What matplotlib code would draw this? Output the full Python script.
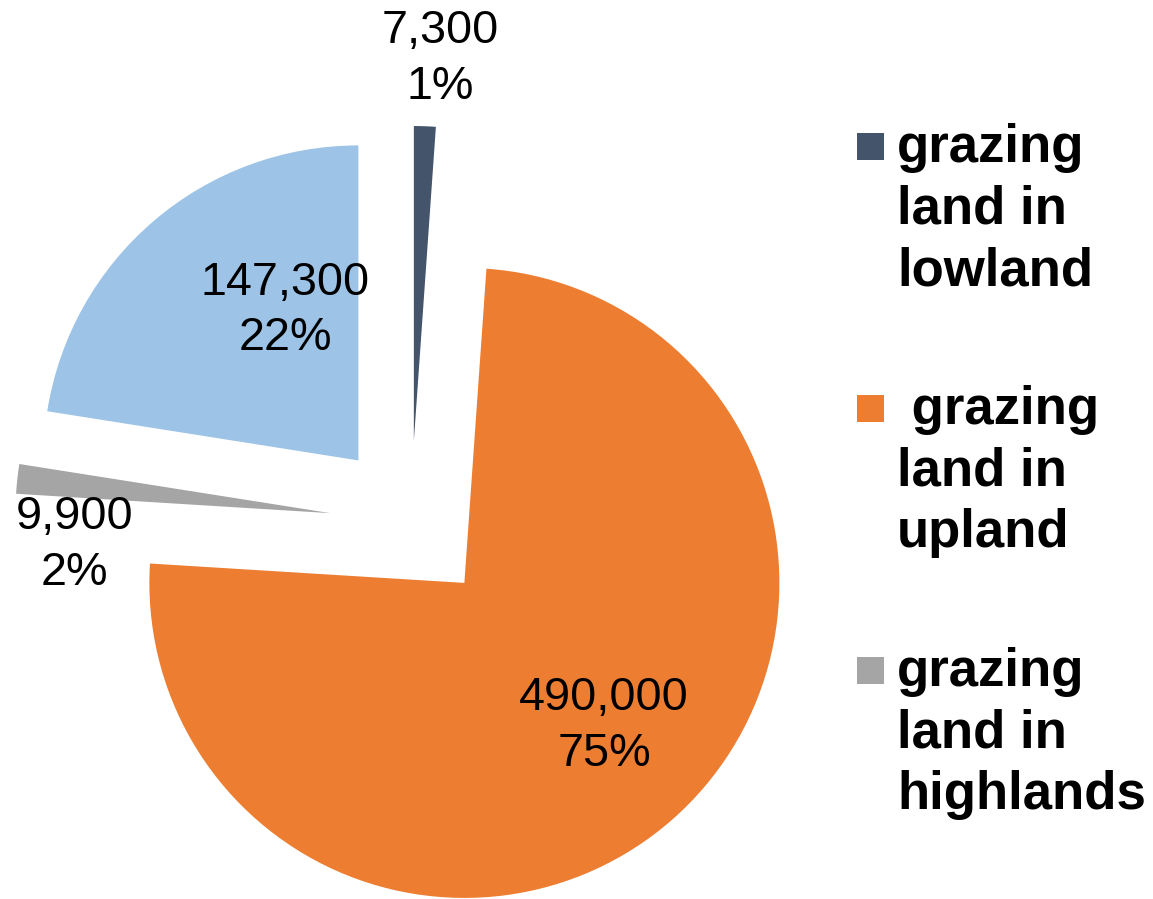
#!/usr/bin/env python3
"""Exploded pie of grazing land by zone, Excel-like styling."""

import numpy as np
import matplotlib
matplotlib.use("Agg")
import matplotlib.pyplot as plt
import matplotlib.patches as patches

plt.rcParams["font.family"] = ["Liberation Sans", "DejaVu Sans"]

# data, clockwise from 12 o'clock
values = [7300, 490000, 9900, 147300]
value_labels = ["7,300", "490,000", "9,900", "147,300"]
pct_labels = ["1%", "75%", "2%", "22%"]
colors = ["#44546A", "#ED7D31", "#A5A5A5", "#9DC3E6"]
legend_labels = [
    "grazing\nland in\nlowland",
    " grazing\nland in\nupland",
    "grazing\nland in\nhighlands",
]

# label placement relative to each wedge apex (fraction of radius, angle in deg ccw from +x)
# anchor is the baseline of the last line
label_dist = [1.089, 0.731, 0.844, 0.419]
label_angle = [85.65, -52.6, -164.3, 123.6]

W, H = 1153, 899
fig = plt.figure(figsize=(W / 100, H / 100), dpi=100, facecolor="white")
ax = fig.add_axes([0, 0, 1, 1])

R = 315
wedges, _ = ax.pie(
    values, colors=colors, startangle=90, counterclock=False,
    center=(411, H - 522), radius=R, explode=[81] * len(values),
    wedgeprops=dict(linewidth=0),
)
ax.set_xlim(0, W)
ax.set_ylim(0, H)
ax.set_aspect("equal")
ax.axis("off")

for w, v, p, d, a in zip(wedges, value_labels, pct_labels, label_dist, label_angle):
    cx, cy = w.center
    x = cx + d * R * np.cos(np.radians(a))
    y = cy + d * R * np.sin(np.radians(a))
    ax.text(x, y, f"{v}\n{p}", ha="center", va="baseline", multialignment="center",
            fontsize=33.7, color="black", linespacing=1.35)

# legend (first three series only, as in the source chart)
leg_x, leg_top0, leg_step, sq = 857, 133, 262, 27
for i, (lab, col) in enumerate(zip(legend_labels, colors)):
    top = H - (leg_top0 + i * leg_step)
    ax.add_patch(patches.Rectangle((leg_x, top - sq), sq, sq, facecolor=col, edgecolor="none"))
    ax.text(leg_x + sq + 13, top - 152, lab, ha="left", va="baseline", fontsize=38,
            fontweight="bold", color="black", linespacing=1.3)

fig.savefig("out.png", dpi=100, facecolor="white")
